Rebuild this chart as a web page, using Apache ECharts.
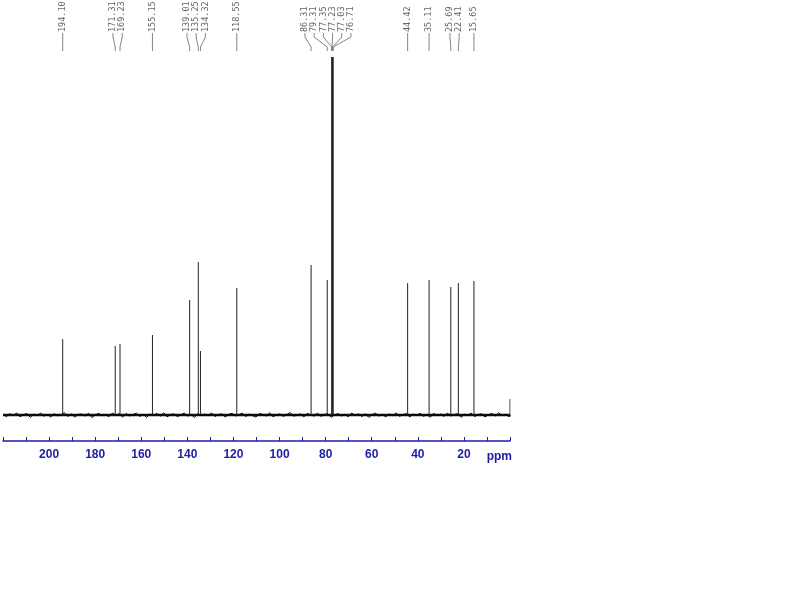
<!DOCTYPE html>
<html>
<head>
<meta charset="utf-8">
<script src="https://cdn.jsdelivr.net/npm/echarts@6/dist/echarts.min.js"></script>
<style>html,body{margin:0;padding:0;background:#fff}#c{width:800px;height:599px}</style>
</head>
<body>
<div id="c"></div>
<script>
// Peak positions (ppm) and heights (relative intensity, baseline = 0)
const peakPpm = [194.10, 171.31, 169.23, 155.15, 139.01, 135.25, 134.32, 118.55, 86.31, 79.31, 77.35, 77.23, 77.03, 76.71, 44.42, 35.11, 25.69, 22.41, 15.65, 0.0];
const peakHeight = [76, 69, 71, 80, 115, 153, 64, 127, 150, 135, 358, 358, 358, 358, 132, 135, 128, 132, 134, 16];
// Labelled peaks (text shown at top)
const peakLabels = ["194.10","171.31","169.23","155.15","139.01","135.25","134.32","118.55","86.31","79.31","77.35","77.23","77.03","76.71","44.42","35.11","25.69","22.41","15.65"];
// Baseline noise (left to right)
const noise = [
 0.8,-1.6,1.2,-0.4,2.1,-1.8,0.3,1.5,-2.4,0.9,
 -0.6,1.9,-1.2,0.4,-2.0,1.4,-0.9,0.2,2.3,-1.5,
 1.1,-2.2,0.6,1.0,-1.1,1.8,-2.6,0.1,1.6,-0.8,
 0.5,-1.7,2.0,-0.3,1.2,-2.1,1.5,-1.0,0.2,1.9,
 -1.4,0.7,-2.3,1.0,-0.5,1.6,-1.2,2.2,-1.9,0.4,
 1.1,-1.6,0.0,2.0,-1.1,0.6,-2.5,1.4,-0.4,1.0,
 -0.9,2.1,-1.5,0.3,1.2,-2.0,0.5,1.7,-1.0,0.1,
 1.9,-1.6,1.0,-0.6,-2.1,1.5,0.6,-1.1,2.2,-1.8,
 0.2,1.1,-1.4,0.5,2.4,-1.0,-0.5,1.2,-2.0,1.6,
 0.1,-1.2,1.9,-1.5,0.6,1.0,-2.2,0.0,1.4,-1.0,
 0.7,-1.8,2.0,-0.4,1.1,-1.6,1.3,-2.4,0.4,1.8,
 -1.1,0.5,-1.9,1.2,-0.7,2.1,-1.3,0.2,1.5,-2.0,
 0.9,-0.5,1.7,-1.4,0.3,-2.2,1.6,-0.8,1.0,-1.5,
 2.0,-1.0,0.4,1.3,-2.3,0.7,-0.2,1.8,-1.6,0.5,
 1.2,-1.9,0.1,1.6,-1.1,2.2,-0.6,0.9,-1.7,0.3
];
const axisMin = 0, axisMax = 220, tickStep = 10, labelStep = 20;

// Noise trace points
const noisePts = [];
const N = noise.length;
for (let i = 0; i < N; i++) {
  const ppm = axisMax - i * (axisMax - axisMin + 1) / (N - 1);
  noisePts.push([ppm, noise[i]]);
}
const peakData = peakPpm.map((p, i) => [p, peakHeight[i]]);

const chart = echarts.init(document.getElementById('c'), null, {renderer: 'canvas'});
const blue = '#1c1ca6';
chart.setOption({
  animation: false,
  backgroundColor: '#fff',
  grid: {left: 2, right: 290, top: 55, bottom: 174},
  xAxis: {
    type: 'value', inverse: true, min: axisMin, max: axisMax, interval: tickStep,
    offset: 16,
    axisLine: {show: true, onZero: false, lineStyle: {color: blue, width: 1.5}},
    axisTick: {show: true, inside: true, length: 4, lineStyle: {color: blue, width: 1}},
    splitLine: {show: false},
    axisLabel: {
      margin: 8, color: blue, fontFamily: 'Liberation Sans, Arial, sans-serif', fontWeight: 'bold', fontSize: 12,
      formatter: v => (v % labelStep === 0 && v > axisMin && v < axisMax) ? String(v) : ''
    }
  },
  yAxis: {type: 'value', min: -10, max: 360, show: false},
  series: [
    {type: 'line', data: [[axisMax, 0], [axisMin, 0]], symbol: 'none', lineStyle: {color: '#111', width: 2.5}, z: 1},
    {type: 'line', data: noisePts, symbol: 'none', lineStyle: {color: '#000', width: 1, join: 'round'}, z: 2},
    {type: 'bar', data: peakData, barWidth: 1, itemStyle: {color: '#222'}, z: 3}
  ]
});

// Peak labels with spreading connectors
const gap = 9.2;
const labelled = peakLabels.map(t => ({t, ppm: parseFloat(t)}));
labelled.sort((a, b) => b.ppm - a.ppm);
labelled.forEach(l => { l.px = chart.convertToPixel({xAxisIndex: 0}, l.ppm); });
let groups = labelled.map(l => ({m: [l]}));
function center(g) { return g.m.reduce((s, l) => s + l.px, 0) / g.m.length; }
function first(g) { return center(g) - (g.m.length - 1) / 2 * gap; }
function last(g) { return center(g) + (g.m.length - 1) / 2 * gap; }
let changed = true;
while (changed) {
  changed = false;
  for (let i = 0; i < groups.length - 1; i++) {
    if (first(groups[i + 1]) - last(groups[i]) < gap) {
      groups[i] = {m: groups[i].m.concat(groups[i + 1].m)};
      groups.splice(i + 1, 1);
      changed = true;
      break;
    }
  }
}
const elems = [];
groups.forEach(g => {
  const c = center(g);
  g.m.forEach((l, i) => {
    const lx = c + (i - (g.m.length - 1) / 2) * gap;
    elems.push({
      type: 'text', x: lx, y: 32, rotation: Math.PI / 2,
      style: {text: l.t, fill: '#666', font: '8.5px "DejaVu Sans Mono", monospace', textAlign: 'left', textVerticalAlign: 'middle'}
    });
    elems.push({
      type: 'polyline',
      shape: {points: [[lx, 33], [lx, 37], [l.px, 47], [l.px, 51]]},
      style: {stroke: '#777', lineWidth: 0.9, fill: null}
    });
  });
});
const ppmX = chart.convertToPixel({xAxisIndex: 0}, axisMin);
elems.push({
  type: 'text', x: ppmX + 2, y: 457,
  style: {text: 'ppm', fill: blue, font: 'bold 12px "Liberation Sans", Arial, sans-serif', textAlign: 'right', textVerticalAlign: 'middle'}
});
chart.setOption({graphic: {elements: elems}});
</script>
</body>
</html>
